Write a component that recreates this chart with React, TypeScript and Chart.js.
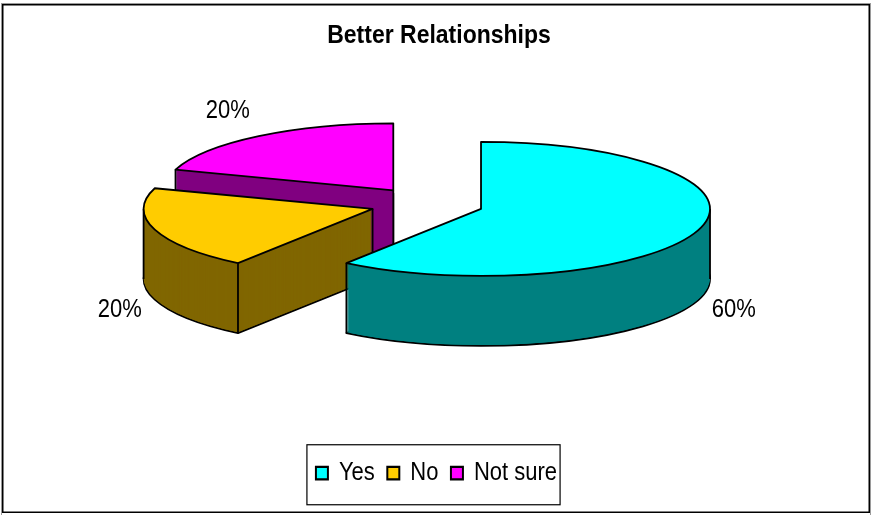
import React, { useEffect, useRef } from "react";
import { Chart, registerables } from "chart.js";

Chart.register(...registerables);

const categories = ["Yes", "No", "Not sure"];
const shares = [60, 20, 20];
const topColors = ["#00FFFF", "#FFCC00", "#FF00FF"];
const sideColors = ["#008080", "#806600", "#800080"];
const chartTitle = "Better Relationships";

const FONT = "'Liberation Sans', Arial, sans-serif";
// Projection of the flat pie onto the tilted disc.
const PIE = { x: 426.8, y: 203.8, radius: 229, tilt: 0.2926, depth: 70, explode: 57 };
const OUTLINE = 1.8;
// Lettering is drawn slightly taller than wide.
const TEXT_STRETCH = 1.14;

const angleInSlice = (a: number, start: number, end: number) => {
  const t = Math.PI * 2;
  const n = ((a - start) % t + t) % t;
  return n <= end - start;
};

const stretchBox = (chart: any, box: any) => {
  if (box.__stretched) return;
  box.__stretched = true;
  const draw = box.draw.bind(box);
  box.draw = (area: any) => {
    const { ctx } = chart;
    const mid = box.top + box.height / 2;
    ctx.save();
    ctx.translate(0, mid);
    ctx.scale(1, TEXT_STRETCH);
    ctx.translate(0, -mid);
    draw(area);
    ctx.restore();
  };
};

const tiltedPie = {
  id: "tiltedPie",
  afterLayout(chart: any) {
    // The heading sits a little right of the page centre.
    chart.titleBlock.left += 2.5;
    chart.titleBlock.right += 2.5;
    stretchBox(chart, chart.titleBlock);
    stretchBox(chart, chart.legend);
  },
  beforeDraw(chart: any) {
    const { ctx, width, height } = chart;
    ctx.save();
    ctx.fillStyle = "#fff";
    ctx.fillRect(0, 0, width, height);
    ctx.strokeStyle = "#9a9a9a";
    ctx.lineWidth = 1;
    ctx.strokeRect(1.5, 3.5, width - 2, height - 3);
    ctx.strokeStyle = "#000";
    ctx.lineWidth = 1.5;
    ctx.strokeRect(2.75, 4.75, width - 4.5, height - 7.5);
    ctx.restore();
  },
  beforeDatasetsDraw(chart: any) {
    const { ctx } = chart;
    const arcs = chart.getDatasetMeta(0).data;
    const { tilt, depth, explode, x: cx, y: cy } = PIE;

    // Back slices first, so nearer slices cover them.
    for (let i = arcs.length - 1; i >= 0; i--) {
      const arc = arcs[i];
      const { startAngle: s, endAngle: e, outerRadius: r } = arc;
      const mid = (s + e) / 2;
      const ox = cx + Math.cos(mid) * explode;
      const oy = cy + Math.sin(mid) * explode * tilt;
      const base = arc.options;

      const paint = (lift: number, fill: string) => {
        ctx.save();
        ctx.translate(ox, oy + lift);
        ctx.scale(1, tilt);
        ctx.translate(-arc.x, -arc.y);
        arc.options = Object.assign(Object.create(base), { backgroundColor: fill, borderWidth: 0 });
        arc.draw(ctx);
        arc.options = base;
        ctx.restore();
      };
      const outline = (lift: number) => {
        ctx.beginPath();
        ctx.moveTo(ox, oy + lift);
        ctx.ellipse(ox, oy + lift, r, r * tilt, 0, s, e);
        ctx.closePath();
        ctx.stroke();
      };
      const drop = (x: number, y: number) => {
        ctx.beginPath();
        ctx.moveTo(x, y);
        ctx.lineTo(x, y + depth);
        ctx.stroke();
      };
      const rim = (a: number): [number, number] => [ox + Math.cos(a) * r, oy + Math.sin(a) * r * tilt];

      ctx.save();
      ctx.strokeStyle = "#000";
      ctx.lineWidth = OUTLINE;
      ctx.lineJoin = "round";

      paint(depth, sideColors[i]);
      outline(depth);
      for (let d = depth - 1; d > 0; d--) paint(d, sideColors[i]);

      const startWall = -Math.cos(s) > 1e-6;
      const endWall = Math.cos(e) > 1e-6;
      if (startWall || Math.sin(s) > 0) drop(...rim(s));
      if (endWall || Math.sin(e) > 0) drop(...rim(e));
      if (angleInSlice(0, s, e)) drop(...rim(0));
      if (angleInSlice(Math.PI, s, e)) drop(...rim(Math.PI));
      if ((startWall || endWall) && e - s < Math.PI) drop(ox, oy);

      paint(0, topColors[i]);
      outline(0);
      ctx.restore();
    }
    return false;
  },
  afterDraw(chart: any) {
    const { ctx } = chart;
    const arcs = chart.getDatasetMeta(0).data;
    const { tilt, depth, explode, x: cx, y: cy } = PIE;
    const total = shares.reduce((a, b) => a + b, 0);

    ctx.save();
    ctx.font = `22px ${FONT}`;
    ctx.fillStyle = "#000";
    ctx.textAlign = "center";
    ctx.textBaseline = "middle";
    arcs.forEach((arc: any, i: number) => {
      const mid = (arc.startAngle + arc.endAngle) / 2;
      const rx = cx + Math.cos(mid) * (explode + arc.outerRadius);
      const ry = cy + Math.sin(mid) * (explode + arc.outerRadius) * tilt;
      const front = Math.sin(mid) > 0;
      const tx = rx + Math.sign(Math.cos(mid)) * (front ? 35 : 31);
      const ty = front ? ry + depth + 10 : ry - 25;
      ctx.save();
      ctx.translate(tx, ty);
      ctx.scale(1, TEXT_STRETCH);
      ctx.fillText(`${Math.round((shares[i] / total) * 100)}%`, 0, 0);
      ctx.restore();
    });

    // Frame around the legend entries.
    const boxes = chart.legend.legendHitBoxes;
    const left = Math.min(...boxes.map((b: any) => b.left));
    const right = Math.max(...boxes.map((b: any) => b.left + b.width));
    const midY = chart.legend.top + chart.legend.height / 2;
    ctx.strokeStyle = "#000";
    ctx.lineWidth = 1.2;
    ctx.strokeRect(left - 9, midY - 27, right - left + 12, 60);
    ctx.restore();
  },
};

export default function App() {
  const ref = useRef<HTMLCanvasElement>(null);

  useEffect(() => {
    document.body.style.margin = "0";
    const chart = new Chart(ref.current!, {
      type: "pie",
      data: {
        labels: categories,
        datasets: [
          {
            data: shares,
            backgroundColor: topColors,
            borderColor: "#000",
            borderWidth: 2,
            radius: PIE.radius,
            clip: false,
          } as any,
        ],
      },
      options: {
        responsive: false,
        animation: false,
        layout: { padding: { left: 2, top: 16, bottom: 21 } },
        events: [],
        plugins: {
          title: {
            display: true,
            text: chartTitle,
            color: "#000",
            font: { family: FONT, size: 23, weight: "bold" },
            padding: { top: 6, bottom: 0 },
          },
          legend: {
            position: "bottom",
            labels: {
              color: "#000",
              font: { family: FONT, size: 22 },
              boxWidth: 12,
              boxHeight: 11,
              padding: 12.5,
            },
          },
          tooltip: { enabled: false },
        },
      },
      plugins: [tiltedPie],
    } as any);
    return () => chart.destroy();
  }, []);

  return <canvas ref={ref} width={871} height={515} style={{ display: "block" }} />;
}
